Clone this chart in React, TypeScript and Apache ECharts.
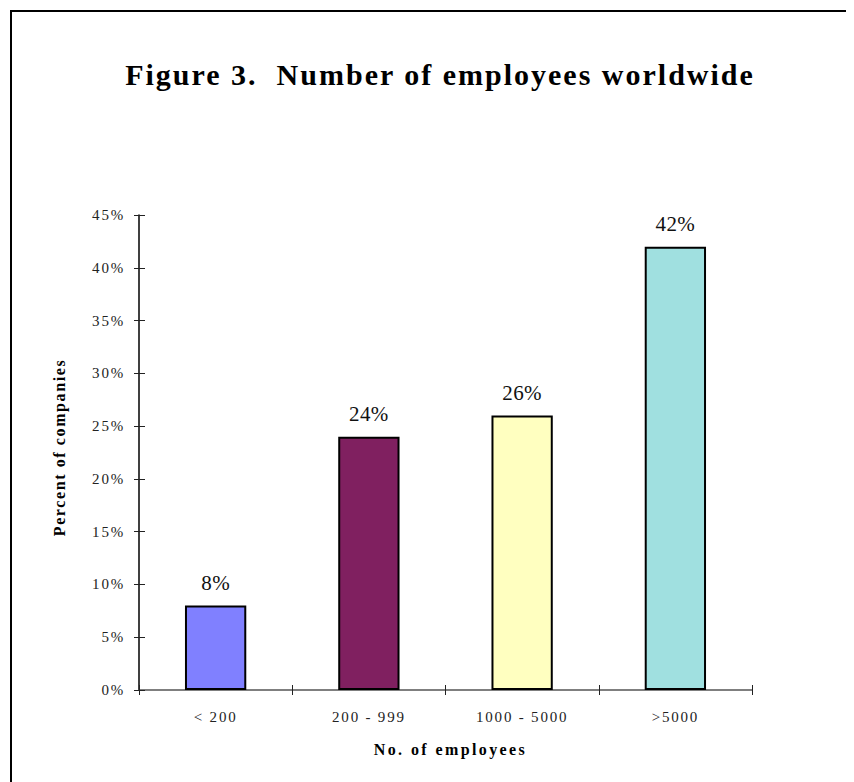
import React, { useEffect, useRef } from "react";
import * as echarts from "echarts";

const categories = ["< 200", "200 - 999", "1000 - 5000", ">5000"];
const values = [8, 24, 26, 42];
const barColors = ["#8080FF", "#802060", "#FFFFC0", "#A0E0E0"];
const yTicks = { min: 0, max: 45, interval: 5 };
const titleText = "Figure 3.  Number of employees worldwide";
const xName = "No. of employees";
const yName = "Percent of companies";

const FONT = "'Liberation Serif', 'Times New Roman', serif";

function applyLetterSpacing(root: HTMLElement) {
  const texts = root.querySelectorAll("text");
  texts.forEach((el) => {
    const cs = getComputedStyle(el);
    const size = parseFloat(cs.fontSize);
    const bold = cs.fontWeight === "bold" || parseInt(cs.fontWeight, 10) >= 600;
    let ls = 1.8;
    if (size >= 28) ls = 2;
    else if (size >= 20) ls = 0.4;
    else if (el.textContent === yName) ls = 1.6;
    else if (bold) ls = 2.4;
    el.setAttribute("letter-spacing", String(ls));
  });
}

export default function App() {
  const ref = useRef<HTMLDivElement>(null);
  useEffect(() => {
    if (!ref.current) return;
    const chart = echarts.init(ref.current, undefined, { renderer: "svg" });
    const axisColor = "#222";
    chart.setOption({
      animation: false,
      backgroundColor: "#fff",
      textStyle: { fontFamily: FONT },
      grid: { left: 131, top: 207, right: 102, bottom: 92, containLabel: false },
      graphic: [
        {
          type: "polyline",
          shape: { points: [[3, 900], [3, 3], [900, 3]] },
          style: { stroke: "#000", lineWidth: 2, fill: "none" },
          silent: true,
        },
        {
          type: "text",
          x: 432,
          y: 66,
          style: {
            text: titleText,
            font: `bold 30px ${FONT}`,
            fill: "#000",
            textAlign: "center",
            textVerticalAlign: "middle",
          },
        },
      ],
      xAxis: [
        {
          type: "category",
          data: categories,
          boundaryGap: true,
          axisLine: { lineStyle: { color: "#555", width: 1.5 } },
          axisTick: { show: true, length: 5, lineStyle: { color: axisColor } },
          axisLabel: { fontSize: 15, color: "#222", margin: 19, fontFamily: FONT },
          name: xName,
          nameLocation: "middle",
          nameGap: 51,
          nameTextStyle: {
            fontSize: 16,
            fontWeight: "bold",
            color: "#000",
            fontFamily: FONT,
            padding: [0, 0, 0, 10],
          },
        },
        {
          type: "category",
          data: categories,
          position: "bottom",
          boundaryGap: true,
          axisLine: { show: false },
          axisTick: { show: true, inside: true, length: 5, lineStyle: { color: axisColor } },
          axisLabel: { show: false },
        },
      ],
      yAxis: [
        {
          type: "value",
          min: yTicks.min,
          max: yTicks.max,
          interval: yTicks.interval,
          splitLine: { show: false },
          axisLine: { show: true, lineStyle: { color: "#000", width: 1.5 } },
          axisTick: { show: true, length: 5, lineStyle: { color: axisColor } },
          axisLabel: { fontSize: 15, color: "#222", margin: 14, formatter: "{value}%", fontFamily: FONT },
          name: yName,
          nameLocation: "middle",
          nameGap: 72,
          nameTextStyle: {
            fontSize: 16,
            fontWeight: "bold",
            color: "#000",
            fontFamily: FONT,
            padding: [0, 0, 0, 10],
          },
        },
        {
          type: "value",
          position: "left",
          min: yTicks.min,
          max: yTicks.max,
          interval: yTicks.interval,
          splitLine: { show: false },
          axisLine: { show: false },
          axisTick: { show: true, inside: true, length: 6, lineStyle: { color: axisColor } },
          axisLabel: { show: false },
        },
      ],
      series: [
        {
          type: "bar",
          data: values.map((v, i) => ({
            value: v,
            itemStyle: { color: barColors[i] },
          })),
          barWidth: "40%",
          emphasis: { disabled: true },
          itemStyle: { borderColor: "#000", borderWidth: 2 },
          label: {
            show: true,
            position: "top",
            distance: 12,
            formatter: "{c}%",
            fontSize: 21,
            color: "#111",
            fontFamily: FONT,
          },
        },
      ],
    });
    applyLetterSpacing(ref.current);
    return () => chart.dispose();
  }, []);
  return <div ref={ref} style={{ width: 846, height: 774 }} />;
}
